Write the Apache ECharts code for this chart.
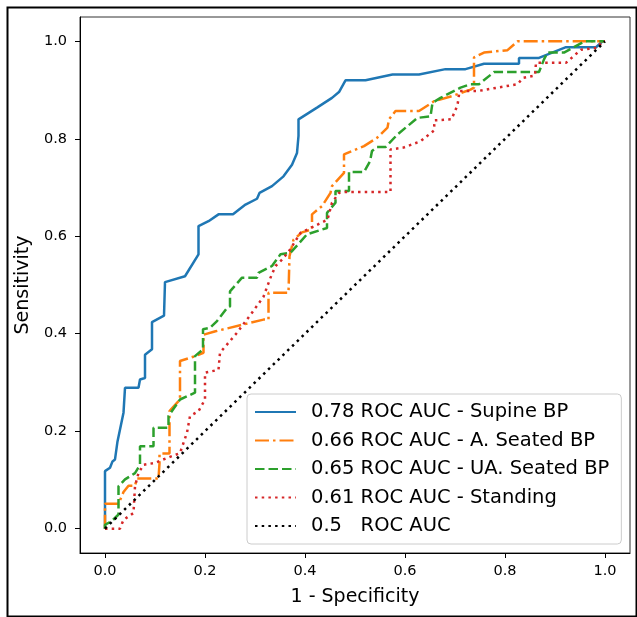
<!DOCTYPE html>
<html>
<head>
<meta charset="utf-8">
<script src="https://cdn.jsdelivr.net/npm/echarts@6/dist/echarts.min.js"></script>
<style>
html,body{margin:0;padding:0;background:#fff;}
#chart{width:637px;height:617px;}
</style>
</head>
<body>
<div id="chart"></div>
<script>
// ---- data ----
const seriesNames = [
  '0.78 ROC AUC - Supine BP',
  '0.66 ROC AUC - A. Seated BP',
  '0.65 ROC AUC - UA. Seated BP',
  '0.61 ROC AUC - Standing',
  '0.5   ROC AUC'
];
const tickValues = [0, 0.2, 0.4, 0.6, 0.8, 1.0];

// [1 - specificity, sensitivity]
const supineRoc = [[0,0],[0,0.118],[0.01,0.125],[0.015,0.138],[0.02,0.142],[0.025,0.179],[0.037,0.238],[0.04,0.289],[0.067,0.289],[0.07,0.306],[0.08,0.309],[0.08,0.357],[0.094,0.368],[0.094,0.424],[0.118,0.437],[0.12,0.506],[0.16,0.518],[0.187,0.563],[0.187,0.621],[0.207,0.631],[0.227,0.645],[0.256,0.645],[0.281,0.665],[0.304,0.677],[0.309,0.689],[0.334,0.703],[0.357,0.723],[0.374,0.747],[0.384,0.771],[0.387,0.806],[0.387,0.84],[0.424,0.864],[0.454,0.884],[0.468,0.896],[0.481,0.92],[0.521,0.92],[0.575,0.932],[0.628,0.932],[0.681,0.943],[0.721,0.943],[0.758,0.954],[0.828,0.954],[0.828,0.966],[0.868,0.966],[0.922,0.988],[0.982,0.988],[0.995,1],[1,1]];

const aSeatedRoc = [[0,0],[0,0.051],[0.027,0.051],[0.037,0.075],[0.047,0.088],[0.06,0.088],[0.064,0.103],[0.107,0.103],[0.109,0.134],[0.109,0.154],[0.129,0.154],[0.129,0.241],[0.15,0.265],[0.15,0.344],[0.18,0.354],[0.197,0.361],[0.197,0.398],[0.221,0.405],[0.317,0.429],[0.327,0.429],[0.327,0.484],[0.367,0.484],[0.369,0.559],[0.377,0.593],[0.394,0.608],[0.414,0.614],[0.414,0.645],[0.434,0.662],[0.451,0.689],[0.454,0.703],[0.478,0.73],[0.478,0.768],[0.494,0.775],[0.518,0.785],[0.544,0.802],[0.565,0.823],[0.568,0.84],[0.581,0.857],[0.628,0.857],[0.658,0.877],[0.695,0.888],[0.731,0.901],[0.738,0.905],[0.738,0.967],[0.758,0.977],[0.805,0.982],[0.825,1],[1,1]];

const uaSeatedRoc = [[0,0],[0,0.008],[0.013,0.015],[0.027,0.029],[0.027,0.087],[0.04,0.101],[0.06,0.114],[0.07,0.131],[0.07,0.169],[0.097,0.169],[0.097,0.207],[0.127,0.207],[0.127,0.231],[0.15,0.265],[0.18,0.279],[0.18,0.354],[0.196,0.368],[0.196,0.409],[0.21,0.412],[0.224,0.426],[0.244,0.453],[0.25,0.456],[0.25,0.487],[0.274,0.515],[0.304,0.515],[0.307,0.525],[0.334,0.539],[0.351,0.563],[0.371,0.566],[0.404,0.604],[0.444,0.617],[0.444,0.648],[0.461,0.669],[0.461,0.693],[0.488,0.693],[0.488,0.732],[0.518,0.732],[0.53,0.754],[0.534,0.775],[0.544,0.783],[0.561,0.783],[0.585,0.809],[0.625,0.843],[0.651,0.846],[0.655,0.874],[0.671,0.884],[0.711,0.905],[0.731,0.912],[0.748,0.912],[0.778,0.937],[0.868,0.937],[0.878,0.963],[0.885,0.977],[0.918,0.977],[0.959,1],[1,1]];

const standingRoc = [[0,0],[0.03,0],[0.037,0.018],[0.057,0.032],[0.06,0.087],[0.067,0.114],[0.077,0.131],[0.1,0.135],[0.124,0.145],[0.15,0.155],[0.164,0.197],[0.17,0.231],[0.187,0.241],[0.2,0.265],[0.2,0.32],[0.227,0.326],[0.23,0.361],[0.264,0.402],[0.294,0.443],[0.317,0.476],[0.331,0.515],[0.341,0.539],[0.354,0.552],[0.369,0.571],[0.391,0.607],[0.417,0.62],[0.445,0.634],[0.454,0.669],[0.468,0.689],[0.478,0.691],[0.571,0.691],[0.571,0.778],[0.597,0.782],[0.631,0.795],[0.658,0.817],[0.659,0.838],[0.693,0.84],[0.705,0.869],[0.709,0.898],[0.745,0.898],[0.825,0.912],[0.836,0.925],[0.86,0.93],[0.862,0.956],[0.922,0.956],[0.952,0.983],[0.985,0.987],[0.995,1],[1,1]];

const chanceRoc = [[0,0],[1,1]];

// ---- chart ----
const FONT = 'DejaVu Sans';
const chart = echarts.init(document.getElementById('chart'), null, {renderer: 'canvas'});

function mkLine(name, data, color, dash, z) {
  return {
    name: name, type: 'line', data: data, symbol: 'none', z: z,
    lineStyle: {color: color, width: 2.5, type: dash, cap: 'butt'},
    itemStyle: {color: color},
    animation: false
  };
}

const axisCommon = {
  type: 'value', min: -0.05, max: 1.05,
  splitLine: {show: false},
  axisLine: {show: true, onZero: false, lineStyle: {color: '#000', width: 1}},
  axisTick: {show: true, length: 5, inside: false, lineStyle: {color: '#000', width: 1}, customValues: tickValues},
  nameTextStyle: {fontFamily: FONT, fontSize: 19, color: '#000'}
};

chart.setOption({
  backgroundColor: '#fff',
  animation: false,
  grid: {left: 80, right: 7, top: 17, bottom: 64, show: true, borderColor: '#333', borderWidth: 1, containLabel: false},
  xAxis: Object.assign({}, axisCommon, {
    name: '1 - Specificity', nameLocation: 'middle', nameGap: 35,
    axisLabel: {fontFamily: FONT, fontSize: 14.5, color: '#000', margin: 11, customValues: tickValues,
      formatter: v => v.toFixed(1)}
  }),
  yAxis: Object.assign({}, axisCommon, {
    name: 'Sensitivity', nameLocation: 'middle', nameGap: 33,
    axisLabel: {fontFamily: FONT, fontSize: 14.5, color: '#000', margin: 13, customValues: tickValues,
      formatter: v => v.toFixed(1)}
  }),
  legend: {
    orient: 'vertical', left: 247, top: 394,
    padding: [7, 12, 7, 7], itemGap: 6.5, itemWidth: 41, itemHeight: 14,
    backgroundColor: 'rgba(255,255,255,0.85)', borderColor: '#cccccc', borderWidth: 1, borderRadius: 4,
    itemStyle: {opacity: 0},
    textStyle: {fontFamily: FONT, fontSize: 19.5, color: '#000', lineHeight: 22, padding: [0, 0, 0, 10]},
    data: seriesNames
  },
  series: [
    mkLine(seriesNames[0], supineRoc, '#1f77b4', 'solid', 2),
    mkLine(seriesNames[1], aSeatedRoc, '#ff7f0e', [14, 4, 2.5, 4], 3),
    mkLine(seriesNames[2], uaSeatedRoc, '#2ca02c', [9.5, 4], 4),
    mkLine(seriesNames[3], standingRoc, '#d62728', [2.5, 4.2], 5),
    mkLine(seriesNames[4], chanceRoc, '#000000', [2.5, 4.2], 6)
  ],
  graphic: [{
    type: 'rect', left: 5, top: 5, silent: true, z: 100,
    shape: {width: 629, height: 609},
    style: {fill: 'none', stroke: '#000', lineWidth: 2}
  }]
});
</script>
</body>
</html>
